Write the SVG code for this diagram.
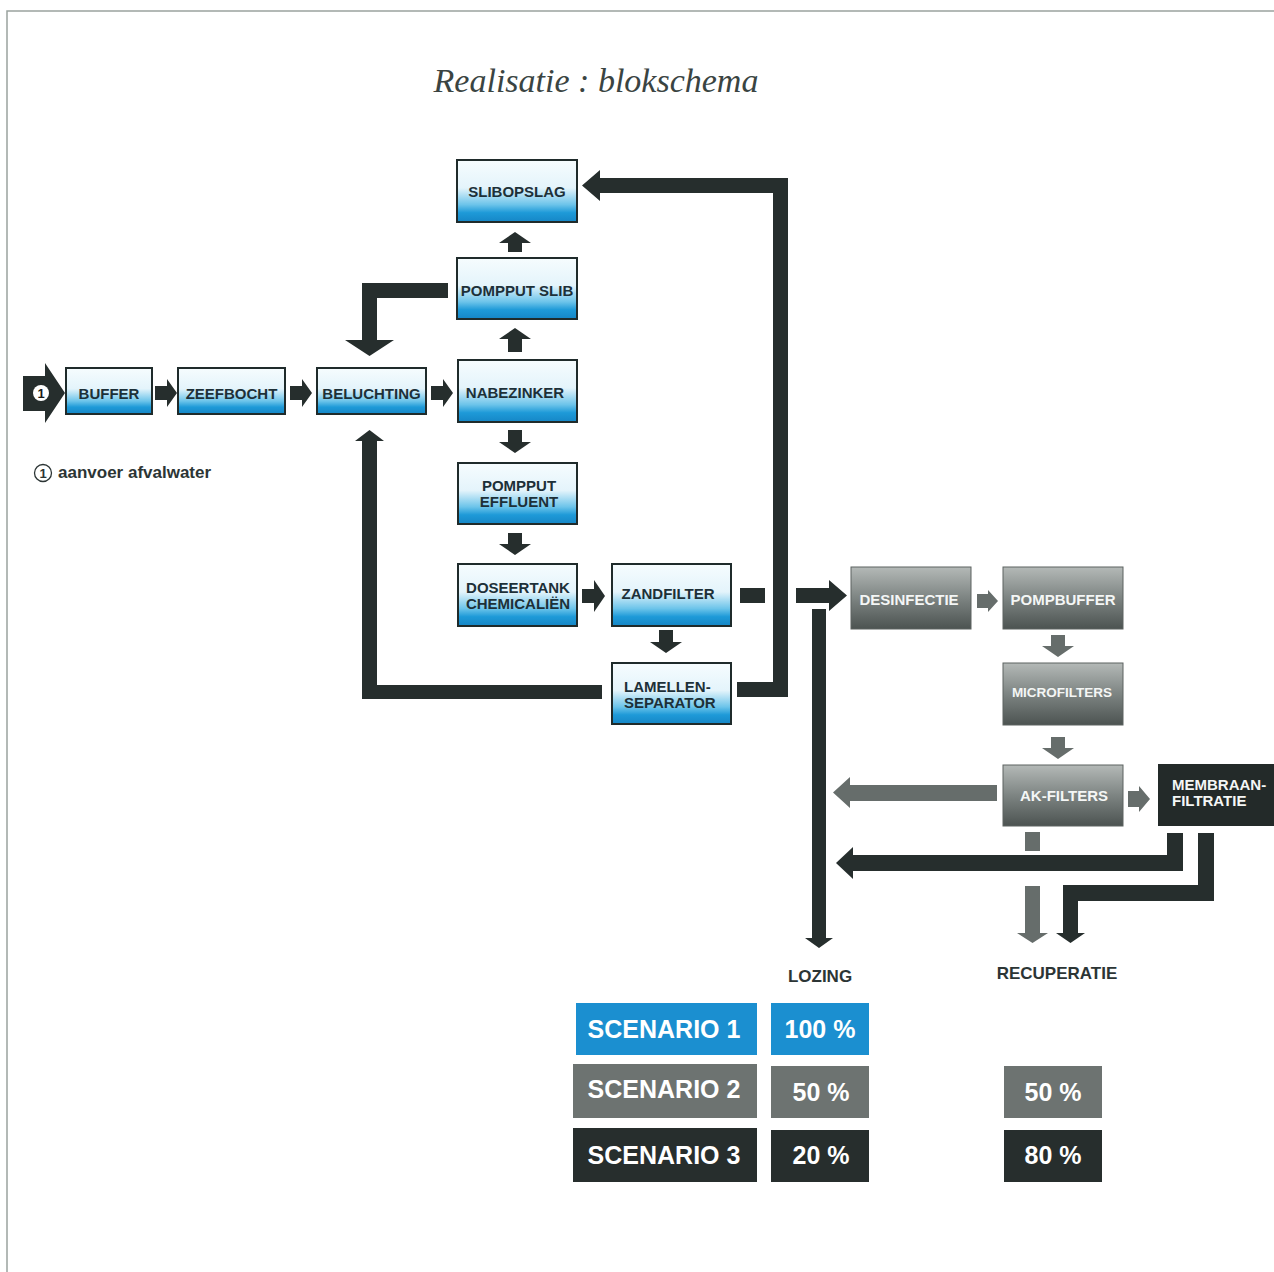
<svg xmlns="http://www.w3.org/2000/svg" width="1274" height="1272" viewBox="0 0 1274 1272">
<defs>
<linearGradient id="gBlue" x1="0" y1="0" x2="0" y2="1">
<stop offset="0" stop-color="#f6fcfe"/>
<stop offset="0.45" stop-color="#e4f4fb"/>
<stop offset="0.72" stop-color="#6cc4ea"/>
<stop offset="0.85" stop-color="#1e9ad8"/>
<stop offset="1" stop-color="#1586c6"/>
</linearGradient>
<linearGradient id="gGray" x1="0" y1="0" x2="0" y2="1">
<stop offset="0" stop-color="#b4b9b7"/>
<stop offset="0.5" stop-color="#7d8482"/>
<stop offset="1" stop-color="#4c5351"/>
</linearGradient>
<style>
.bn{fill:url(#gBlue);stroke:#1f2b2b;stroke-width:2}
.gn{fill:url(#gGray);stroke:#5c6361;stroke-width:1}
.bt{font-family:"Liberation Sans",Arial,sans-serif;font-weight:bold;font-size:15px;fill:#1d3038;text-anchor:middle}
.gt{font-family:"Liberation Sans",Arial,sans-serif;font-weight:bold;font-size:15px;fill:#f4f6f5;text-anchor:middle}
.dk{fill:#262e2d}
.gr{fill:#666d6b}
.lbl{font-family:"Liberation Sans",Arial,sans-serif;font-weight:bold;font-size:17px;fill:#2c3535;text-anchor:middle}
.tb{font-family:"Liberation Sans",Arial,sans-serif;font-weight:bold;font-size:25px;fill:#ffffff;text-anchor:middle}
</style>
</defs>
<rect width="1274" height="1272" fill="#ffffff"/>
<g id="frame" fill="none" stroke="#9aa39f" stroke-width="1.5">
<path d="M7 1272 V11 H1274"/>
</g>
<text x="596" y="92" font-family="Liberation Serif,Times New Roman,serif" font-style="italic" font-size="34" fill="#3a4442" text-anchor="middle">Realisatie : blokschema</text>

<g id="connectors">
<!-- input arrow -->
<path class="dk" d="M23 376 H45 V363 L65 393 L45 423 V411 H23 Z"/>
<circle cx="41" cy="393" r="8" fill="#ffffff"/>
<text x="41" y="398" font-family="Liberation Sans,Arial,sans-serif" font-weight="bold" font-size="13" fill="#1a1a1a" text-anchor="middle">1</text>
<!-- horizontal small arrows -->
<path class="dk" d="M155 386 H167 V379 L177 393 L167 407 V400 H155 Z"/>
<path class="dk" d="M290 386 H302 V379 L312 393 L302 407 V400 H290 Z"/>
<path class="dk" d="M431 386 H443 V379 L453 393 L443 407 V400 H431 Z"/>
<path class="dk" d="M582 589 H594 V580 L605 596 L594 612 V603 H582 Z"/>
<!-- up arrows -->
<path class="dk" d="M508 252 V243 H499 L515 232 L531 243 H522 V252 Z"/>
<path class="dk" d="M508 352 V339 H499 L515 328 L531 339 H522 V352 Z"/>
<!-- down arrows -->
<path class="dk" d="M508 430 H522 V442 H531 L515 453 L499 442 H508 Z"/>
<path class="dk" d="M508 533 H522 V544 H531 L515 555 L499 544 H508 Z"/>
<path class="dk" d="M659 630 H673 V642 H682 L666 653 L650 642 H659 Z"/>
<!-- sludge return to slibopslag -->
<path class="dk" d="M737 682 H773 V193 H600 V201 L582 185.5 L600 170 V178 H788 V697 H737 Z"/>
<!-- pompput slib to beluchting -->
<path class="dk" d="M448 283 V298 H377 V340 H394 L369.5 356 L345 340 H362 V283 Z"/>
<!-- lamellen to beluchting -->
<path class="dk" d="M602 685 V699 H362 V441 H355 L369.5 430 L384 441 H377 V685 Z"/>
<!-- zandfilter to desinfectie -->
<rect class="dk" x="740" y="588" width="25" height="15"/>
<path class="dk" d="M796 588 H829 V580 L847 595.5 L829 611 V603 H796 Z"/>
<!-- lozing vertical -->
<path class="dk" d="M812 609 H826 V938 H833 L819 948 L805 938 H812 Z"/>
<!-- gray arrows -->
<path class="gr" d="M977 594 H988 V590 L998 601 L988 612 V608 H977 Z"/>
<path class="gr" d="M1051 635 H1065 V646 H1074 L1058 657 L1042 646 H1051 Z"/>
<path class="gr" d="M1051 737 H1065 V748 H1074 L1058 759 L1042 748 H1051 Z"/>
<path class="gr" d="M997 785 H850 V777 L833 792.5 L850 808 V801 H997 Z"/>
<path class="gr" d="M1128 791 H1139 V786 L1150 799 L1139 812 V807 H1128 Z"/>
<rect class="gr" x="1025" y="832" width="15" height="19"/>
<path class="gr" d="M1025 886 H1040 V933 H1048 L1032.5 943 L1017 933 H1025 Z"/>
<!-- membraan outputs -->
<path class="dk" d="M1167 833 H1183 V871 H853 V879 L836 863 L853 847 V855 H1167 Z"/>
<path class="dk" d="M1198 833 H1214 V901 H1078 V933 H1085 L1070.5 943 L1056 933 H1063 V885 H1198 Z"/>
</g>

<g id="n-buffer"><rect class="bn" x="66" y="368" width="86" height="46"/><text class="bt" x="109" y="399">BUFFER</text></g>
<g id="n-zeefbocht"><rect class="bn" x="178" y="368" width="107" height="46"/><text class="bt" x="231.5" y="399">ZEEFBOCHT</text></g>
<g id="n-beluchting"><rect class="bn" x="317" y="368" width="109" height="46"/><text class="bt" x="371.5" y="399">BELUCHTING</text></g>
<g id="n-slibopslag"><rect class="bn" x="457" y="160" width="120" height="62"/><text class="bt" x="517" y="197">SLIBOPSLAG</text></g>
<g id="n-pompputslib"><rect class="bn" x="457" y="258" width="120" height="61"/><text class="bt" x="517" y="296">POMPPUT SLIB</text></g>
<g id="n-nabezinker"><rect class="bn" x="458" y="360" width="119" height="62"/><text class="bt" x="515" y="398">NABEZINKER</text></g>
<g id="n-pompputeffluent"><rect class="bn" x="458" y="463" width="119" height="61"/><text class="bt" x="519" y="491">POMPPUT</text><text class="bt" x="519" y="507">EFFLUENT</text></g>
<g id="n-doseertank"><rect class="bn" x="458" y="564" width="119" height="62"/><text class="bt" x="518" y="593">DOSEERTANK</text><text class="bt" x="518" y="609">CHEMICALIËN</text></g>
<g id="n-zandfilter"><rect class="bn" x="612" y="564" width="119" height="62"/><text class="bt" x="668" y="599">ZANDFILTER</text></g>
<g id="n-lamellen"><rect class="bn" x="612" y="663" width="119" height="61"/><text class="bt" x="624" y="692" style="text-anchor:start">LAMELLEN-</text><text class="bt" x="624" y="708" style="text-anchor:start">SEPARATOR</text></g>

<g id="n-desinfectie"><rect class="gn" x="851" y="567" width="120" height="62"/><text class="gt" x="909" y="605">DESINFECTIE</text></g>
<g id="n-pompbuffer"><rect class="gn" x="1003" y="567" width="120" height="62"/><text class="gt" x="1063" y="605">POMPBUFFER</text></g>
<g id="n-microfilters"><rect class="gn" x="1003" y="663" width="120" height="62"/><text class="gt" x="1062" y="697" style="font-size:13.5px">MICROFILTERS</text></g>
<g id="n-akfilters"><rect class="gn" x="1003" y="765" width="120" height="61"/><text class="gt" x="1064" y="801">AK-FILTERS</text></g>
<g id="n-membraan"><rect x="1158" y="764" width="116" height="62" fill="#232a29"/><text class="gt" x="1172" y="790" style="text-anchor:start">MEMBRAAN-</text><text class="gt" x="1172" y="806" style="text-anchor:start">FILTRATIE</text></g>

<g id="legend">
<circle cx="43" cy="473" r="8.5" fill="#ffffff" stroke="#2c3535" stroke-width="1.3"/>
<text x="43" y="478" font-family="Liberation Sans,Arial,sans-serif" font-weight="bold" font-size="13" fill="#2c3535" text-anchor="middle">1</text>
<text x="58" y="478" font-family="Liberation Sans,Arial,sans-serif" font-weight="bold" font-size="17" fill="#2c3535">aanvoer afvalwater</text>
</g>

<g id="labels">
<text class="lbl" x="820" y="982">LOZING</text>
<text class="lbl" x="1057" y="979">RECUPERATIE</text>
</g>

<g id="table">
<rect x="576" y="1003" width="181" height="52" fill="#1b8fd0"/><text class="tb" x="664" y="1038">SCENARIO 1</text>
<rect x="771" y="1003" width="98" height="52" fill="#1b8fd0"/><text class="tb" x="820" y="1038">100 %</text>
<rect x="573" y="1064" width="184" height="54" fill="#6d7371"/><text class="tb" x="664" y="1098">SCENARIO 2</text>
<rect x="771" y="1066" width="98" height="52" fill="#6d7371"/><text class="tb" x="821" y="1101">50 %</text>
<rect x="1004" y="1066" width="98" height="52" fill="#6d7371"/><text class="tb" x="1053" y="1101">50 %</text>
<rect x="573" y="1128" width="184" height="54" fill="#272e2d"/><text class="tb" x="664" y="1164">SCENARIO 3</text>
<rect x="771" y="1130" width="98" height="52" fill="#272e2d"/><text class="tb" x="821" y="1164">20 %</text>
<rect x="1004" y="1130" width="98" height="52" fill="#272e2d"/><text class="tb" x="1053" y="1164">80 %</text>
</g>
</svg>
